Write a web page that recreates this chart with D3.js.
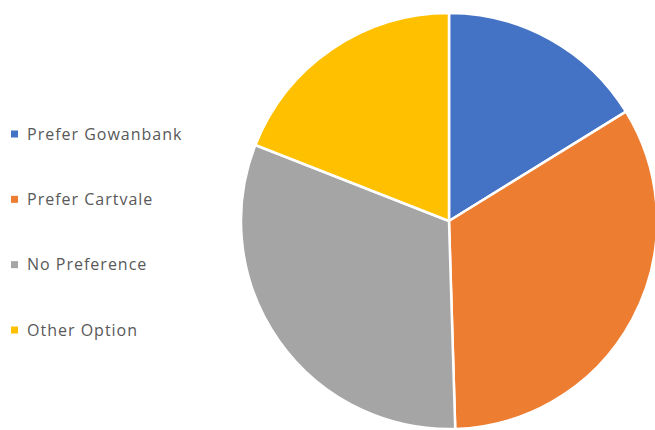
<!DOCTYPE html>
<html><head><meta charset="utf-8">
<script src="https://cdn.jsdelivr.net/npm/d3@7"></script>
<style>body{margin:0;background:#fff}svg{display:block}</style>
</head><body>
<svg id="c" width="655" height="430"></svg>
<script>
const categories = ["Prefer Gowanbank", "Prefer Cartvale", "No Preference", "Other Option"];
const values = [17, 35, 33, 20];
const colors = ["#4472C4", "#ED7D31", "#A5A5A5", "#FFC000"];

const svg = d3.select("#c");
const cx = 449, cy = 221, r = 208;
const pie = d3.pie().sort(null).value(d => d.v);
const arc = d3.arc().innerRadius(0).outerRadius(r);
const data = categories.map((c, i) => ({c, v: values[i], col: colors[i]}));
const g = svg.append("g").attr("transform", `translate(${cx},${cy})`);
g.selectAll("path").data(pie(data)).join("path")
  .attr("d", arc).attr("fill", d => d.data.col)
  .attr("stroke", "#fff").attr("stroke-width", 2.5).attr("stroke-linejoin", "round");

const ly = d3.scalePoint().domain(categories).range([134, 330]);
const lg = svg.append("g");
const items = lg.selectAll("g").data(data).join("g")
  .attr("transform", d => `translate(0,${ly(d.c)})`);
items.append("rect").attr("x", 11).attr("y", -3.5).attr("width", 7).attr("height", 7).attr("fill", d => d.col);
items.append("text").attr("x", 27).attr("y", 0).attr("dy", "0.35em")
  .attr("font-family", "'Open Sans', 'Noto Sans', sans-serif").attr("font-size", 16)
  .attr("letter-spacing", "1px")
  .attr("fill", "#595959").text(d => d.c);
</script>
</body></html>
